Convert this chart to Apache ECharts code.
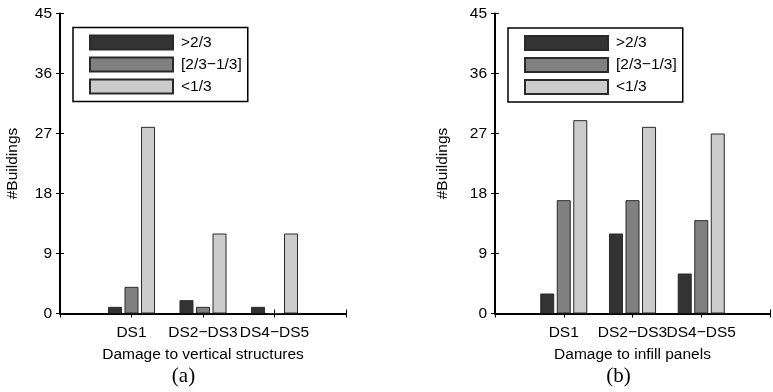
<!DOCTYPE html>
<html>
<head>
<meta charset="utf-8">
<script src="https://cdn.jsdelivr.net/npm/echarts@6/dist/echarts.min.js"></script>
<style>
  html, body { margin: 0; padding: 0; background: #fff; }
  #chart { width: 773px; height: 392px; }
</style>
</head>
<body>
<div id="chart"></div>
<script>
const categories = ['DS1', 'DS2−DS3', 'DS4−DS5'];
const seriesNames = ['>2/3', '[2/3−1/3]', '<1/3'];
const yTicks = [0, 9, 18, 27, 36, 45];

// (a) vertical structures
const vertHigh = [1, 2, 1];
const vertMid = [4, 1, 0];
const vertLow = [28, 12, 12];

// (b) infill panels
const infillHigh = [3, 12, 6];
const infillMid = [17, 17, 14];
const infillLow = [29, 28, 27];

const colors = ['#333333', '#808080', '#cccccc'];
const font = 'Liberation Sans, Arial, sans-serif';
const fs = 15.5;

const chart = echarts.init(document.getElementById('chart'), null, { renderer: 'canvas' });

function pairs(vals) {
    return vals.map((v, i) => [i + 1, v]);
}

function xAxes(gridIndex, name) {
    return [
        {
            gridIndex: gridIndex,
            type: 'value',
            position: 'bottom',
            min: 0,
            max: 4,
            interval: 1,
            name: name,
            nameLocation: 'middle',
            nameGap: 33,
            nameTextStyle: { fontFamily: font, fontSize: fs, color: '#000' },
            axisLine: { lineStyle: { color: '#000', width: 2 } },
            axisTick: { inside: true, length: 4, lineStyle: { color: '#000' } },
            axisLabel: {
                margin: 11,
                fontFamily: font,
                fontSize: fs,
                color: '#000',
                formatter: v => categories[v - 1] || ''
            },
            splitLine: { show: false }
        },
        {
            gridIndex: gridIndex,
            type: 'value',
            position: 'top',
            min: 0,
            max: 4,
            interval: 1,
            axisLine: { lineStyle: { color: '#000', width: 1 } },
            axisTick: { inside: true, length: 4, lineStyle: { color: '#000' } },
            axisLabel: { show: false },
            splitLine: { show: false }
        }
    ];
}

function yAxes(gridIndex, gap) {
    return [
        {
            gridIndex: gridIndex,
            type: 'value',
            position: 'left',
            min: yTicks[0],
            max: yTicks[yTicks.length - 1],
            interval: 9,
            name: '#Buildings',
            nameLocation: 'middle',
            nameGap: gap,
            nameTextStyle: { fontFamily: font, fontSize: fs, color: '#000' },
            axisLine: { show: true, lineStyle: { color: '#000', width: 2 } },
            axisTick: { show: true, inside: true, length: 4, lineStyle: { color: '#000' } },
            axisLabel: { margin: 8, fontFamily: font, fontSize: fs, color: '#000' },
            splitLine: { show: false }
        },
        {
            gridIndex: gridIndex,
            type: 'value',
            position: 'right',
            min: yTicks[0],
            max: yTicks[yTicks.length - 1],
            interval: 9,
            axisLine: { show: true, lineStyle: { color: '#000', width: 1 } },
            axisTick: { show: true, inside: true, length: 4, lineStyle: { color: '#000' } },
            axisLabel: { show: false },
            splitLine: { show: false }
        }
    ];
}

function barSeries(xi, yi, vals, k) {
    return {
        name: seriesNames[k],
        type: 'bar',
        xAxisIndex: xi,
        yAxisIndex: yi,
        data: pairs(vals),
        barWidth: 14,
        barGap: '18%',
        itemStyle: { color: colors[k], borderColor: '#2a2a2a', borderWidth: 1 }
    };
}

function legend(left, top) {
    return {
        left: left,
        top: top,
        orient: 'vertical',
        data: seriesNames,
        itemWidth: 83,
        itemHeight: 14,
        itemGap: 6,
        icon: 'rect',
        padding: [7, 6, 7, 16],
        borderColor: '#000',
        borderWidth: 1.5,
        backgroundColor: '#fff',
        selectedMode: false,
        textStyle: { fontFamily: font, fontSize: fs, color: '#000', padding: [0, 0, 0, 3] }
    };
}

const options = {
    animation: false,
    backgroundColor: '#fff',
    grid: [
        { left: 60, top: 13.5, width: 286, height: 300 },
        { left: 495, top: 13.5, width: 286, height: 300 }
    ],
    xAxis: [
        ...xAxes(0, 'Damage to vertical structures'),
        ...xAxes(1, 'Damage to infill panels')
    ],
    yAxis: [...yAxes(0, 39), ...yAxes(1, 44)],
    legend: [
        { ...legend(73, 27.5), id: 'la' },
        { ...legend(508, 28), id: 'lb' }
    ],
    series: [
        barSeries(0, 0, vertHigh, 0),
        barSeries(0, 0, vertMid, 1),
        barSeries(0, 0, vertLow, 2),
        barSeries(2, 2, infillHigh, 0),
        barSeries(2, 2, infillMid, 1),
        barSeries(2, 2, infillLow, 2)
    ],
    graphic: [
        {
            type: 'text', x: 183.5, y: 376,
            style: { text: '(a)', fontFamily: 'Liberation Serif, Times New Roman, serif', fontSize: 21, fill: '#000', align: 'center', verticalAlign: 'middle' }
        },
        {
            type: 'text', x: 618.5, y: 376,
            style: { text: '(b)', fontFamily: 'Liberation Serif, Times New Roman, serif', fontSize: 21, fill: '#000', align: 'center', verticalAlign: 'middle' }
        }
    ]
};

chart.setOption(options);
</script>
</body>
</html>
